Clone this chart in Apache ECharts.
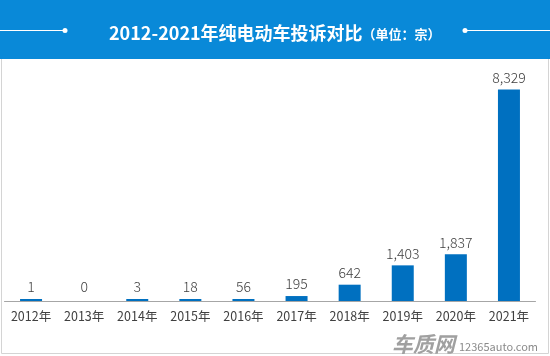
<!DOCTYPE html>
<html><head><meta charset="utf-8">
<script src="https://cdn.jsdelivr.net/npm/echarts@6/dist/echarts.min.js"></script>
<style>html,body{margin:0;padding:0;background:#fff}#c{width:550px;height:356px}</style>
</head><body><div id="c"></div>
<script>
const categories = ['2012年','2013年','2014年','2015年','2016年','2017年','2018年','2019年','2020年','2021年'];
const complaints = [1, 0, 3, 18, 56, 195, 642, 1403, 1837, 8329];
const titleMain = '2012-2021年纯电动车投诉对比';
const titleUnit = '（单位：宗）';
const watermarkLogo = '车质网';
const watermarkSite = '12365auto.com';

const FONT = '"Noto Sans CJK SC", "Noto Sans", sans-serif';
const chart = echarts.init(document.getElementById('c'), null, {renderer: 'canvas'});
chart.setOption({
  animation: false,
  backgroundColor: '#ffffff',
  title: {
    text: '{a|' + titleMain + '}{b|' + titleUnit + '}',
    left: 104, top: 19,
    textStyle: {
      rich: {
        a: {fontSize: 18, fontWeight: 'bold', color: '#ffffff', fontFamily: FONT},
        b: {fontSize: 13, color: '#ffffff', fontFamily: FONT, padding: [2, 0, 0, 0]}
      }
    }
  },
  graphic: [
    {type: 'rect', z: -10, shape: {x: 0, y: 0, width: 550, height: 59}, style: {fill: '#0989d8'}},
    {type: 'line', shape: {x1: 0, y1: 30.5, x2: 65, y2: 30.5}, style: {stroke: '#ffffff', lineWidth: 1}},
    {type: 'circle', shape: {cx: 65, cy: 30.5, r: 2.5}, style: {fill: '#ffffff'}},
    {type: 'line', shape: {x1: 465, y1: 30.5, x2: 550, y2: 30.5}, style: {stroke: '#ffffff', lineWidth: 1}},
    {type: 'circle', shape: {cx: 465, cy: 30.5, r: 2.5}, style: {fill: '#ffffff'}},
    {type: 'polyline', shape: {points: [[1.5, 59], [1.5, 353.5], [548.5, 353.5], [548.5, 59]]}, style: {stroke: '#d4d4d4', lineWidth: 1, fill: null}},
    {type: 'text', left: 392, top: 334, style: {text: watermarkLogo, font: 'bold italic 21px ' + FONT, fill: '#a0a0a0'}},
    {type: 'text', left: 459, top: 341, style: {text: watermarkSite, font: '11px ' + FONT, fill: '#8a8a8a'}}
  ],
  grid: {left: 4.5, right: 14.5, top: 80, bottom: 55, containLabel: false},
  xAxis: {
    type: 'category', data: categories,
    axisLine: {lineStyle: {color: '#a6a6a6', width: 1}},
    axisTick: {show: false},
    axisLabel: {color: '#404040', fontSize: 12.5, fontFamily: FONT, margin: 9, interval: 0}
  },
  yAxis: {
    type: 'value', min: 0, max: 8700, show: false,
    splitLine: {show: false}
  },
  series: [{
    type: 'bar', barWidth: 22, barMinHeight: 2,
    data: complaints.map(v => v === 0 ? {value: v, itemStyle: {color: 'rgba(0,0,0,0)'}} : v),
    itemStyle: {color: '#0070c0'},
    label: {show: true, position: 'top', distance: 5, color: '#404040', fontSize: 14, fontWeight: 300, fontFamily: FONT,
      formatter: p => p.value.toLocaleString('en-US')}
  }]
});
</script></body></html>
